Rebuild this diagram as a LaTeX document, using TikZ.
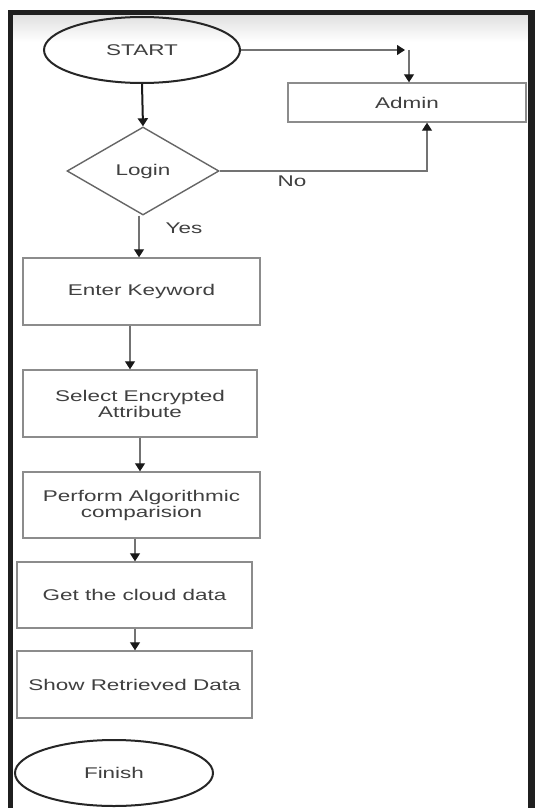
\documentclass[tikz,border=0pt]{standalone}
\usepackage{fontspec}
\setmainfont{Liberation Sans}
\newfontfamily\widefont[FakeStretch=1.45]{Liberation Sans}
\usetikzlibrary{shapes.geometric,arrows.meta,calc}
\tikzset{
  lbl/.style={font=\widefont\fontsize{15.5}{16}\selectfont, text=black!75},
  boxnode/.style={lbl, draw=black!45, line width=1.4pt, rectangle, inner sep=0pt, align=center},
  ovalnode/.style={lbl, draw=black!85, line width=2pt, ellipse, inner sep=0pt, minimum width=196pt, minimum height=66pt},
  decnode/.style={lbl, draw=black!60, line width=1.4pt, diamond, aspect=1.7, inner sep=0pt, minimum width=152pt, minimum height=88pt},
  conn/.style={draw=black!55, line width=1.2pt, -{Triangle[width=10pt,length=8pt,color=black!90]}},
  thickconn/.style={draw=black!90, line width=2pt, -{Triangle[width=10pt,length=8pt,color=black!90]}}
}
\begin{document}
\begin{tikzpicture}[x=1pt,y=1pt]
\useasboundingbox (0,0) rectangle (535,-808);
\fill[white] (0,0) rectangle (535,-808);
% frame
\shade[top color=black!12, bottom color=white] (13,-15) rectangle (528,-42);
\fill[black!88] (8,-10) rectangle (535,-15);
\fill[black!88] (8,-10) rectangle (13,-808);
\fill[black!88] (528,-10) rectangle (535,-808);

% nodes
\node[ovalnode] (start) at (142,-50) {START};
\node[boxnode, minimum width=238pt, minimum height=39pt] (admin) at (407,-102.5) {Admin};
\node[decnode] (login) at (143,-171) {Login};
\node[boxnode, minimum width=237pt, minimum height=67pt] (enter) at (141.5,-291.5) {Enter Keyword};
\node[boxnode, minimum width=234pt, minimum height=67pt] (select) at (140,-403.5) {Select Encrypted\\Attribute};
\node[boxnode, minimum width=237pt, minimum height=66pt] (perform) at (141.5,-505) {Perform Algorithmic\\comparision};
\node[boxnode, minimum width=235pt, minimum height=66pt] (cloud) at (134.5,-595) {Get the cloud data};
\node[boxnode, minimum width=235pt, minimum height=67pt] (show) at (134.5,-684.5) {Show Retrieved Data};
\node[ovalnode, minimum width=198pt] (finish) at (114,-773) {Finish};

\node[lbl] (nolbl) at (292,-181) {No};
\node[lbl] (yeslbl) at (184,-228) {Yes};

% helper coordinates
\coordinate (k1) at (405,-50);
\coordinate (k2) at (409,-50);
\coordinate (k3) at (427,-171);

% connectors
\draw[thickconn] (start.south) -- (login.north);
\draw[conn] (start.east) -- (k1);
\draw[conn] (k2) -- (k2 |- admin.north);
\draw[conn] (login.east) -- (k3) -- (k3 |- admin.south);
\draw[conn] ([xshift=-4pt]login.south) -- ([xshift=-4pt]login.south |- enter.north);
\draw[conn] ([xshift=-11.5pt]enter.south) -- ([xshift=-11.5pt]enter.south |- select.north);
\draw[conn] (select.south) -- (select.south |- perform.north);
\draw[conn] ([xshift=-6.5pt]perform.south) -- ([xshift=-6.5pt]perform.south |- cloud.north);
\draw[conn] ([xshift=0.5pt]cloud.south) -- ([xshift=0.5pt]cloud.south |- show.north);
\end{tikzpicture}
\end{document}
